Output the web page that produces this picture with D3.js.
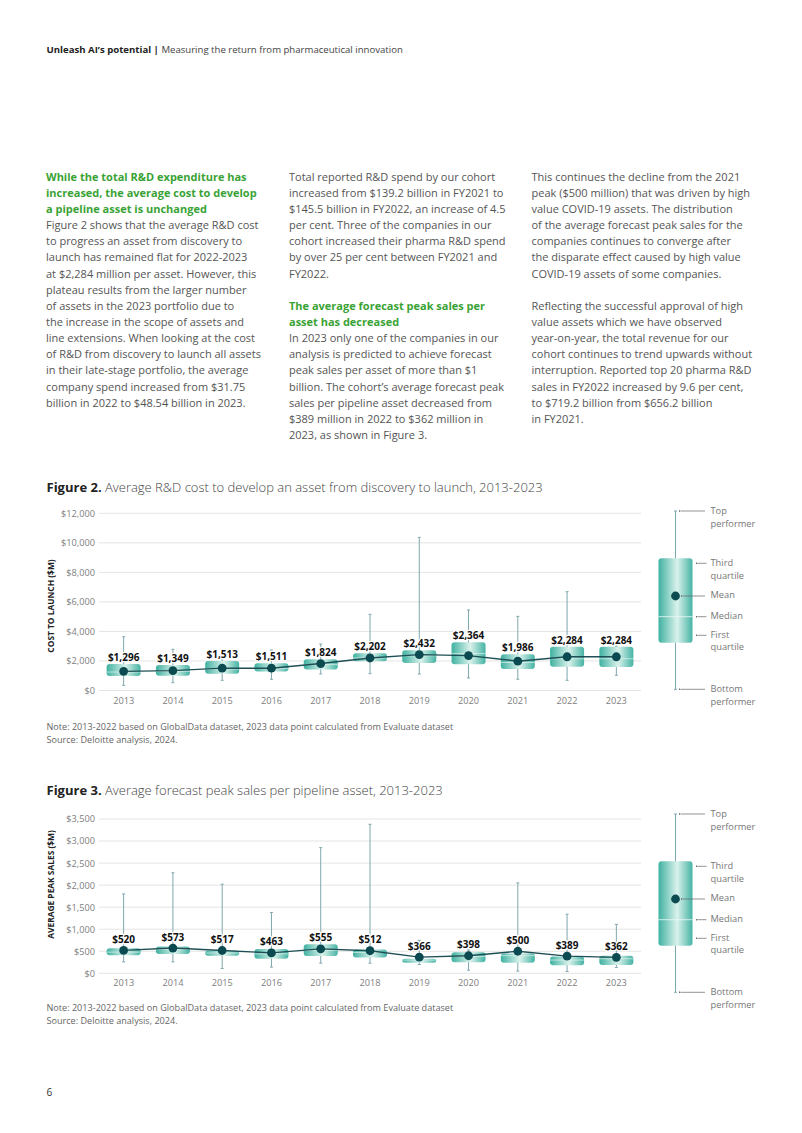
<!DOCTYPE html>
<html><head><meta charset="utf-8">
<script src="https://cdn.jsdelivr.net/npm/d3@7"></script>
<style>
body{margin:0;background:#fff}
svg{display:block}
text{font-family:'Open Sans',sans-serif}
</style>
</head><body>
<svg id="page" width="802" height="1133"></svg>
<script>
// ---------------- DATA ----------------
const years = [2013,2014,2015,2016,2017,2018,2019,2020,2021,2022,2023];

// Figure 2: cost to launch ($M)
const costMean   = [1296,1349,1513,1511,1824,2202,2432,2364,1986,2284,2284];
const costTop    = [3640,2790,2400,2740,3150,5160,10370,5450,5020,6690,3000];
const costQ3     = [1790,1730,2000,1840,2110,2520,2720,3260,2450,2970,2970];
const costMedian = [1250,1300,1450,1480,1750,2200,2350,2500,1900,2150,2150];
const costQ1     = [980,1000,1140,1280,1430,1980,1860,1770,1460,1610,1590];
const costBottom = [350,530,690,760,1120,1140,1120,850,760,690,1030];
const costTicks  = [0,2000,4000,6000,8000,10000,12000];

// Figure 3: average peak sales ($M)
const salesMean   = [520,573,517,463,555,512,366,398,500,389,362];
const salesTop    = [1800,2280,2020,1380,2850,3380,750,530,2050,1340,1110];
const salesQ3     = [570,610,510,550,660,540,330,480,450,380,400];
const salesMedian = [480,540,460,440,520,470,300,380,400,300,330];
const salesQ1     = [410,440,400,330,390,360,240,250,240,180,190];
const salesBottom = [260,260,110,140,230,230,200,70,50,40,130];
const salesTicks  = [0,500,1000,1500,2000,2500,3000,3500];

// Text content
const headerBold = "Unleash AI\u2019s potential | ";
const headerRegular = "Measuring the return from pharmaceutical innovation";

const col1 = [
  {t:"While the total R&D expenditure has", h:1},
  {t:"increased, the average cost to develop", h:1},
  {t:"a pipeline asset is unchanged", h:1},
  {t:"Figure 2 shows that the average R&D cost"},
  {t:"to progress an asset from discovery to"},
  {t:"launch has remained flat for 2022-2023"},
  {t:"at $2,284 million per asset. However, this"},
  {t:"plateau results from the larger number"},
  {t:"of assets in the 2023 portfolio due to"},
  {t:"the increase in the scope of assets and"},
  {t:"line extensions. When looking at the cost"},
  {t:"of R&D from discovery to launch all assets"},
  {t:"in their late-stage portfolio, the average"},
  {t:"company spend increased from $31.75"},
  {t:"billion in 2022 to $48.54 billion in 2023."}
];
const col2 = [
  {t:"Total reported R&D spend by our cohort"},
  {t:"increased from $139.2 billion in FY2021 to"},
  {t:"$145.5 billion in FY2022, an increase of 4.5"},
  {t:"per cent. Three of the companies in our"},
  {t:"cohort increased their pharma R&D spend"},
  {t:"by over 25 per cent between FY2021 and"},
  {t:"FY2022."},
  {t:""},
  {t:"The average forecast peak sales per", h:1},
  {t:"asset has decreased", h:1},
  {t:"In 2023 only one of the companies in our"},
  {t:"analysis is predicted to achieve forecast"},
  {t:"peak sales per asset of more than $1"},
  {t:"billion. The cohort\u2019s average forecast peak"},
  {t:"sales per pipeline asset decreased from"},
  {t:"$389 million in 2022 to $362 million in"},
  {t:"2023, as shown in Figure 3."}
];
const col3 = [
  {t:"This continues the decline from the 2021"},
  {t:"peak ($500 million) that was driven by high"},
  {t:"value COVID-19 assets. The distribution"},
  {t:"of the average forecast peak sales for the"},
  {t:"companies continues to converge after"},
  {t:"the disparate effect caused by high value"},
  {t:"COVID-19 assets of some companies."},
  {t:""},
  {t:"Reflecting the successful approval of high"},
  {t:"value assets which we have observed"},
  {t:"year-on-year, the total revenue for our"},
  {t:"cohort continues to trend upwards without"},
  {t:"interruption. Reported top 20 pharma R&D"},
  {t:"sales in FY2022 increased by 9.6 per cent,"},
  {t:"to $719.2 billion from $656.2 billion"},
  {t:"in FY2021."}
];

const noteLines = [
  "Note: 2013-2022 based on GlobalData dataset, 2023 data point calculated from Evaluate dataset",
  "Source: Deloitte analysis, 2024."
];
const legendLabels = [
  {k:"top", lines:["Top","performer"]},
  {k:"q3", lines:["Third","quartile"]},
  {k:"mean", lines:["Mean"]},
  {k:"median", lines:["Median"]},
  {k:"q1", lines:["First","quartile"]},
  {k:"bottom", lines:["Bottom","performer"]}
];

// ---------------- DRAW ----------------
const svg = d3.select("#page");
svg.append("rect").attr("width",802).attr("height",1133).attr("fill","#fff");

const defs = svg.append("defs");
const grad = defs.append("linearGradient").attr("id","boxGrad")
  .attr("x1","0%").attr("x2","100%").attr("y1","0%").attr("y2","0%");
grad.append("stop").attr("offset","0%").attr("stop-color","#3fb1a1");
grad.append("stop").attr("offset","55%").attr("stop-color","#daf2ec");
grad.append("stop").attr("offset","100%").attr("stop-color","#45b3a4");
defs.append("marker").attr("id","arr").attr("viewBox","0 0 6 6")
  .attr("refX",0).attr("refY",3).attr("markerWidth",3).attr("markerHeight",3)
  .attr("orient","auto-start-reverse")
  .append("path").attr("d","M6,0 L0,3 L6,6 Z").attr("fill","#666");

const TEXT = "#555";
const GREEN = "#3aa335";

// Header
const hdr = svg.append("text").attr("x",46.5).attr("y",53.4).attr("font-size",9.6).attr("fill","#222");
hdr.append("tspan").attr("font-weight",700).text(headerBold);
hdr.append("tspan").attr("fill","#444").text(headerRegular);

// Body columns
function drawColumn(lines, x){
  const g = svg.append("g");
  lines.forEach((l,i)=>{
    if(!l.t) return;
    g.append("text").attr("x",x).attr("y",180.6 + i*16.15)
      .attr("font-size",11).attr("font-weight",l.h?700:400)
      .attr("fill",l.h?GREEN:TEXT).text(l.t);
  });
}
drawColumn(col1,46);
drawColumn(col2,289);
drawColumn(col3,531.5);

// Chart function
function drawChart(cfg){
  const g = svg.append("g");
  const x = d3.scaleBand().domain(years).range([99,641]);
  const y = d3.scaleLinear().domain([0, d3.max(cfg.ticks)]).range([cfg.bottom, cfg.top]);
  const cx = d => x(d) + x.bandwidth()/2;
  const bw = 34;

  // title
  const t = g.append("text").attr("x",46.5).attr("y",cfg.titleY).attr("font-size",13).attr("fill","#222");
  t.append("tspan").attr("font-weight",700).text(cfg.titleBold);
  t.append("tspan").attr("font-weight",300).attr("fill","#444").text(cfg.titleRest);

  // grid
  g.append("g").selectAll("line").data(cfg.ticks).join("line")
    .attr("x1",99).attr("x2",641).attr("y1",d=>y(d)).attr("y2",d=>y(d))
    .attr("stroke","#e4e4e4").attr("stroke-width",1);

  // y axis
  const ya = g.append("g").attr("transform","translate(99,0)")
    .call(d3.axisLeft(y).tickValues(cfg.ticks).tickFormat(d=>"$"+d3.format(",")(d)).tickSize(0).tickPadding(4));
  ya.select(".domain").remove();
  ya.selectAll("text").attr("font-family","'Open Sans',sans-serif").attr("font-size",9.2).attr("fill","#808080");

  // x axis
  const xa = g.append("g").attr("transform",`translate(0,${cfg.bottom})`)
    .call(d3.axisBottom(x).tickSize(0).tickPadding(6.5));
  xa.select(".domain").remove();
  xa.selectAll("text").attr("font-family","'Open Sans',sans-serif").attr("font-size",9.2).attr("fill","#808080");

  // axis title
  g.append("text").attr("transform",`translate(54,${cfg.axisTitleY}) rotate(-90)`)
    .attr("text-anchor","middle").attr("font-size",8.4).attr("font-weight",700).attr("fill","#222")
    .text(cfg.axisTitle);

  const idx = d3.range(years.length);
  // whiskers
  g.append("g").selectAll("line").data(idx).join("line")
    .attr("x1",i=>cx(years[i])).attr("x2",i=>cx(years[i]))
    .attr("y1",i=>y(cfg.top_[i])).attr("y2",i=>y(cfg.bottom_[i]))
    .attr("stroke","#7fa8ad").attr("stroke-width",1);
  ["top_","bottom_"].forEach(k=>{
    g.append("g").selectAll("line").data(idx).join("line")
      .attr("x1",i=>cx(years[i])-1.5).attr("x2",i=>cx(years[i])+1.5)
      .attr("y1",i=>y(cfg[k][i])).attr("y2",i=>y(cfg[k][i]))
      .attr("stroke","#7fa8ad").attr("stroke-width",1);
  });
  // boxes
  g.append("g").selectAll("rect").data(idx).join("rect")
    .attr("x",i=>cx(years[i])-bw/2).attr("width",bw)
    .attr("y",i=>y(cfg.q3[i])).attr("height",i=>y(cfg.q1[i])-y(cfg.q3[i]))
    .attr("rx",3).attr("fill","url(#boxGrad)");
  // medians
  g.append("g").selectAll("line").data(idx).join("line")
    .attr("x1",i=>cx(years[i])-bw/2).attr("x2",i=>cx(years[i])+bw/2)
    .attr("y1",i=>y(cfg.median[i])).attr("y2",i=>y(cfg.median[i]))
    .attr("stroke","#e9f7f3").attr("stroke-width",0.8).attr("opacity",0.8);
  // mean line
  g.append("path").datum(idx)
    .attr("d", d3.line().x(i=>cx(years[i])).y(i=>y(cfg.mean[i])))
    .attr("fill","none").attr("stroke","#1e4f56").attr("stroke-width",1.4);
  g.append("g").selectAll("circle").data(idx).join("circle")
    .attr("cx",i=>cx(years[i])).attr("cy",i=>y(cfg.mean[i])).attr("r",4.4)
    .attr("fill","#0b4a50");
  // labels (white halo hides whisker behind text)
  g.append("g").selectAll("text").data(idx).join("text")
    .attr("x",i=>cx(years[i])).attr("y",i=>Math.min(y(cfg.q3[i])-3, y(cfg.mean[i])-7.5))
    .attr("text-anchor","middle").attr("font-size",10).attr("font-weight",700).attr("fill","#111")
    .attr("stroke","#fff").attr("stroke-width",2.5).attr("stroke-linejoin","round").attr("paint-order","stroke")
    .text(i=>"$"+d3.format(",")(cfg.mean[i]));

  // notes
  if(cfg.notes){
    noteLines.forEach((n,i)=>{
      g.append("text").attr("x",46.5).attr("y",cfg.noteY + i*13).attr("font-size",9.1).attr("fill","#666").text(n);
    });
  }

  // legend
  const L = cfg.legendTop, lx = 675.5;
  const pos = {top:L, q3:L+47.3, mean:L+85, median:L+105.7, q1:L+131.7, bottom:L+178.3};
  const lg = g.append("g");
  lg.append("line").attr("x1",lx).attr("x2",lx).attr("y1",pos.top).attr("y2",pos.bottom).attr("stroke","#7fa8ad");
  [pos.top,pos.bottom].forEach(v=>lg.append("line").attr("x1",lx-1.5).attr("x2",lx+1.5).attr("y1",v).attr("y2",v).attr("stroke","#7fa8ad"));
  lg.append("rect").attr("x",lx-17).attr("width",34).attr("y",pos.q3).attr("height",pos.q1-pos.q3).attr("rx",3).attr("fill","url(#boxGrad)");
  lg.append("line").attr("x1",lx-17).attr("x2",lx+17).attr("y1",pos.median).attr("y2",pos.median).attr("stroke","#eef9f6").attr("stroke-width",0.8);
  lg.append("circle").attr("cx",lx).attr("cy",pos.mean).attr("r",4.4).attr("fill","#0b4a50");
  const arrows = [
    {y:pos.top, x1:681, x2:705},
    {y:pos.q3+5, x1:698, x2:706.5},
    {y:pos.mean, x1:683, x2:705},
    {y:pos.median, x1:698, x2:706.5},
    {y:pos.q1-7.4, x1:698, x2:706.5},
    {y:pos.bottom, x1:681, x2:705}
  ];
  arrows.forEach(a=>lg.append("line").attr("x1",a.x1).attr("x2",a.x2).attr("y1",a.y).attr("y2",a.y)
    .attr("stroke","#666").attr("stroke-width",0.7).attr("marker-start","url(#arr)"));
  const labY = {top:pos.top, q3:pos.q3+4.5, mean:pos.mean-1, median:pos.median-1.5, q1:pos.q1-8.4, bottom:pos.bottom-0.6};
  legendLabels.forEach(l=>{
    l.lines.forEach((s,j)=>{
      lg.append("text").attr("x",710.5).attr("y",labY[l.k]+3.4+j*12.6)
        .attr("font-size",9.3).attr("fill","#777").text(s);
    });
  });
}

drawChart({
  titleBold:"Figure 2.", titleRest:" Average R&D cost to develop an asset from discovery to launch, 2013-2023",
  titleY:491.8, ticks:costTicks, bottom:690.5, top:513.3,
  mean:costMean, top_:costTop, q3:costQ3, median:costMedian, q1:costQ1, bottom_:costBottom,
  axisTitle:"COST TO LAUNCH ($M)", axisTitleY:606, notes:true, noteY:730.2, legendTop:511
});
drawChart({
  titleBold:"Figure 3.", titleRest:" Average forecast peak sales per pipeline asset, 2013-2023",
  titleY:794.8, ticks:salesTicks, bottom:973.3, top:819,
  mean:salesMean, top_:salesTop, q3:salesQ3, median:salesMedian, q1:salesQ1, bottom_:salesBottom,
  axisTitle:"AVERAGE PEAK SALES ($M)", axisTitleY:884.5, notes:true, noteY:1011.2, legendTop:814
});

// page number
svg.append("text").attr("x",46.5).attr("y",1095.5).attr("font-size",10).attr("fill","#333").text("6");
</script>
</body></html>
